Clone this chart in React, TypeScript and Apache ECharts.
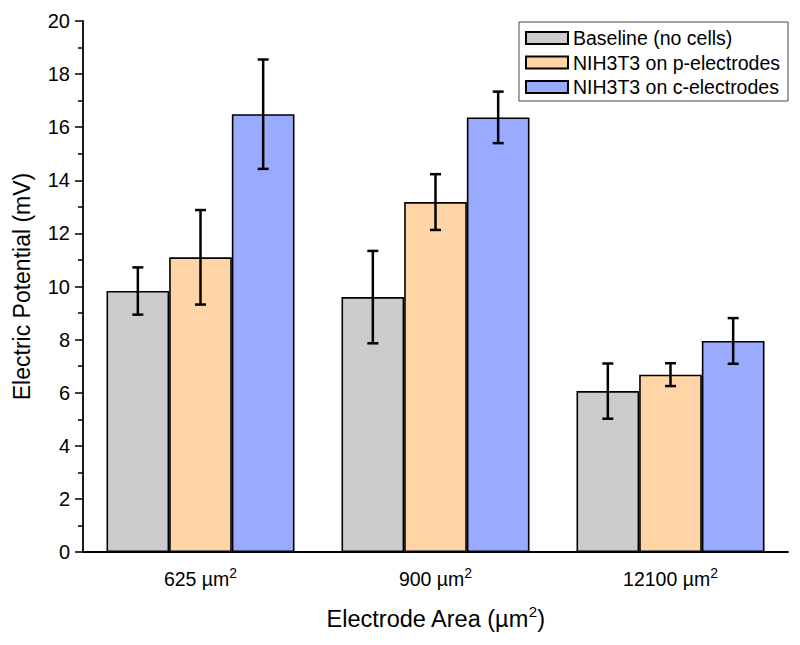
import React, { useEffect, useRef } from "react";
import * as echarts from "echarts";

const categories = ["625 µm", "900 µm", "12100 µm"];
const seriesNames = ["Baseline (no cells)", "NIH3T3 on p-electrodes", "NIH3T3 on c-electrodes"];
const baselineValues = [9.83, 9.6, 6.06];
const baselineErrors = [0.89, 1.74, 1.04];
const pElectrodeValues = [11.1, 13.18, 6.68];
const pElectrodeErrors = [1.78, 1.05, 0.43];
const cElectrodeValues = [16.49, 16.37, 7.95];
const cElectrodeErrors = [2.06, 0.97, 0.86];
const colors = ["#cccccc", "#ffd5a8", "#99aaff"];

const FONT = "'Liberation Sans', Arial, sans-serif";

export default function App() {
  const ref = useRef<HTMLDivElement>(null);
  useEffect(() => {
    if (!ref.current) return;
    const chart = echarts.init(ref.current, undefined, { renderer: "svg" });
    const values = [baselineValues, pElectrodeValues, cElectrodeValues];
    const errors = [baselineErrors, pElectrodeErrors, cElectrodeErrors];
    const catGapRatio = 0.2;

    const barSeries = seriesNames.map((name, k) => ({
      name,
      type: "bar",
      data: values[k],
      barGap: "0%",
      barCategoryGap: "20%",
      itemStyle: { color: colors[k], borderColor: "#000", borderWidth: 1.6 },
      z: 2,
    }));

    const errSeries = seriesNames.map((name, k) => ({
      name: "err" + k,
      type: "custom",
      z: 5,
      data: values[k].map((v, i) => [i, v, errors[k][i]]),
      renderItem: (params: any, api: any) => {
        const xi = api.value(0);
        const v = api.value(1);
        const e = api.value(2);
        const c = api.coord([xi, v]);
        const band = api.size([1, 0])[0];
        const barW = (band * (1 - catGapRatio)) / 3;
        const cx = c[0] + (k - 1) * barW;
        const top = api.coord([xi, v + e])[1];
        const bot = api.coord([xi, v - e])[1];
        const cap = 5.5;
        const style = { stroke: "#000", lineWidth: 2.5 };
        return {
          type: "group",
          children: [
            { type: "line", shape: { x1: cx, y1: top, x2: cx, y2: bot }, style },
            { type: "line", shape: { x1: cx - cap, y1: top, x2: cx + cap, y2: top }, style },
            { type: "line", shape: { x1: cx - cap, y1: bot, x2: cx + cap, y2: bot }, style },
          ],
        };
      },
    }));

    chart.setOption({
      animation: false,
      backgroundColor: "#fff",
      textStyle: { fontFamily: FONT },
      grid: { left: 83, right: 12, top: 21, bottom: 93, containLabel: false },
      legend: {
        data: seriesNames,
        orient: "vertical",
        right: 12,
        top: 22,
        borderColor: "#444",
        borderWidth: 1,
        borderRadius: 0,
        padding: [6, 8, 4, 6],
        itemWidth: 42,
        itemHeight: 12,
        itemGap: 4.5,
        icon: "rect",
        textStyle: { fontSize: 19.5, color: "#000", fontFamily: FONT, lineHeight: 19.5 },
      },
      xAxis: {
        type: "category",
        data: categories,
        axisLine: { lineStyle: { color: "#000", width: 1.8 } },
        axisTick: { alignWithLabel: true, length: 7, lineStyle: { color: "#000", width: 1.5 } },
        axisLabel: {
          color: "#000",
          fontSize: 19.5,
          margin: 14,
          formatter: (v: string) => `{a|${v}}{s|2}`,
          rich: {
            a: { fontSize: 19.5, color: "#000", fontFamily: FONT, verticalAlign: "bottom" },
            s: { fontSize: 14, color: "#000", fontFamily: FONT, verticalAlign: "bottom", padding: [0, 0, 9, 0] },
          },
        },
        name: "{a|Electrode Area (µm}{s|2}{a|)}",
        nameLocation: "middle",
        nameGap: 52,
        nameTextStyle: {
          rich: {
            a: { fontSize: 23.5, color: "#000", fontFamily: FONT, verticalAlign: "bottom" },
            s: { fontSize: 15, color: "#000", fontFamily: FONT, verticalAlign: "bottom", padding: [0, 0, 12, 0] },
          },
        },
      },
      yAxis: {
        type: "value",
        min: 0,
        max: 20,
        interval: 2,
        axisLine: { show: true, lineStyle: { color: "#000", width: 1.8 } },
        axisTick: { show: true, length: 8, lineStyle: { color: "#000", width: 1.5 } },
        minorTick: { show: true, splitNumber: 2, length: 5, lineStyle: { color: "#000", width: 1.5 } },
        splitLine: { show: false },
        axisLabel: { color: "#000", fontSize: 20, margin: 13, fontFamily: FONT },
        name: "Electric Potential (mV)",
        nameLocation: "middle",
        nameGap: 50,
        nameTextStyle: { fontSize: 23, color: "#000", fontFamily: FONT },
      },
      series: [...barSeries, ...errSeries],
    });
    return () => chart.dispose();
  }, []);
  return <div ref={ref} style={{ width: 800, height: 645, position: "absolute", left: 0, top: 0 }} />;
}
